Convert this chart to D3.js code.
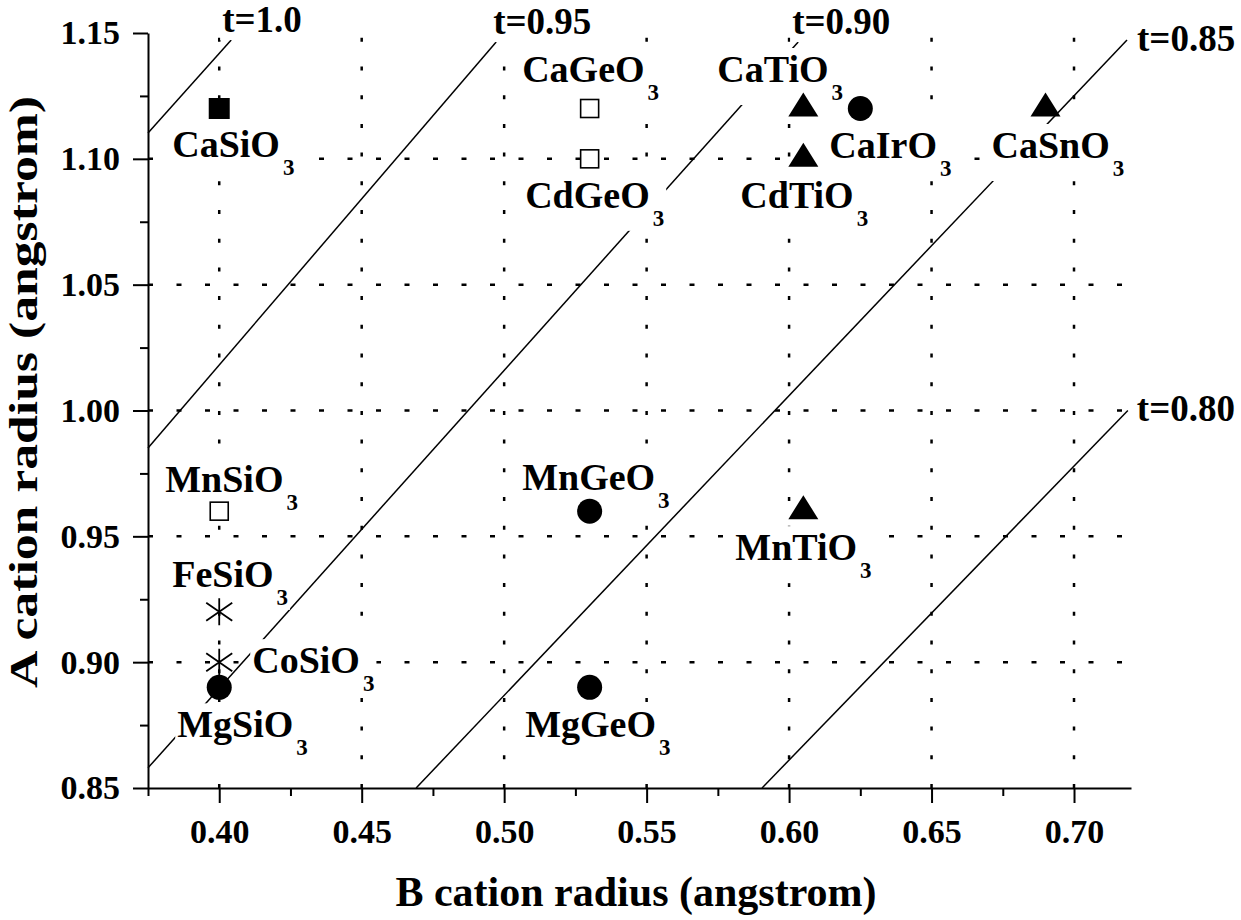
<!DOCTYPE html>
<html><head><meta charset="utf-8">
<script src="https://cdn.jsdelivr.net/npm/d3@7/dist/d3.min.js"></script>
<style>
body{margin:0;background:#fff}
text{font-family:"Liberation Serif","Times New Roman",serif;font-weight:bold;fill:#000}
</style>
</head><body>
<svg id="chart" width="1241" height="920"></svg>
<script>
// ---------------- data ----------------
const compounds = ["CaSiO3","CaGeO3","CdGeO3","CaTiO3","CdTiO3","CaIrO3","CaSnO3",
                   "MnSiO3","FeSiO3","CoSiO3","MgSiO3","MnGeO3","MgGeO3","MnTiO3"];
const bRadius = [0.40,0.53,0.53,0.605,0.605,0.625,0.69,0.40,0.40,0.40,0.40,0.53,0.53,0.605];
const aRadius = [1.12,1.12,1.10,1.12,1.10,1.12,1.12,0.96,0.92,0.90,0.89,0.96,0.89,0.96];
const markerType = ["filledSquare","openSquare","openSquare","triangle","triangle","circle","triangle",
                    "openSquare","asterisk","asterisk","circle","circle","circle","triangle"];

const tLabels = ["t=1.0","t=0.95","t=0.90","t=0.85","t=0.80"];
const tLineB = [[0.375,0.4042],[0.375,0.4972],[0.375,0.6032],[0.4691,0.7186],[0.5905,0.7189]];
const tLineA = [[1.1103,1.1472],[0.9851,1.1464],[0.858,1.1464],[0.85,1.1472],[0.85,1.0]];

const xDomain = [0.375, 0.72];
const yDomain = [0.85, 1.15];
const xTicks = [0.40,0.45,0.50,0.55,0.60,0.65,0.70];
const xMinor = [0.375,0.425,0.475,0.525,0.575,0.625,0.675];
const yTicks = [0.85,0.90,0.95,1.00,1.05,1.10,1.15];
const yMinor = [0.875,0.925,0.975,1.025,1.075,1.125];
const xTitle = "B cation radius (angstrom)";
const yTitle = "A cation radius (angstrom)";

// ---------------- layout (pixels) ----------------
const labelOffset = {
  CaSiO3:[-47,48.5], CaGeO3:[-67.5,-26.5], CdGeO3:[-64.5,49], CaTiO3:[-86,-26.5],
  CdTiO3:[-63,49], CaIrO3:[-31,49.5], CaSnO3:[-54,49.5], MnSiO3:[-54,-19],
  FeSiO3:[-47,-25], CoSiO3:[33,11], MgSiO3:[-42,50], MnGeO3:[-67.5,-21],
  MgGeO3:[-64.5,50], MnTiO3:[-68,49]
};
const tLabelOffset = [[-9,-8],[-3,-8],[-6,-8],[10,11],[9,10]];

const svg = d3.select("#chart");
const x = d3.scaleLinear().domain(xDomain).range([148,1131]);
const y = d3.scaleLinear().domain(yDomain).range([788,33]);

// grid
const grid = svg.append("g");
grid.selectAll("line.v").data(xTicks).join("line").attr("class","v")
  .attr("x1",d=>x(d)).attr("x2",d=>x(d)).attr("y1",y(yDomain[0])).attr("y2",y(yDomain[1]))
  .attr("stroke","#000").attr("stroke-width",2.5).attr("stroke-dasharray","4 24.7");
grid.selectAll("line.h").data(yTicks.filter(d=>d>yDomain[0]+1e-6 && d<yDomain[1]-1e-6)).join("line").attr("class","h")
  .attr("x1",x(xDomain[0])).attr("x2",x(xDomain[1])).attr("y1",d=>y(d)).attr("y2",d=>y(d))
  .attr("stroke","#000").attr("stroke-width",2.5).attr("stroke-dasharray","5 23.5");

// tolerance lines
const lg = svg.append("g");
tLabels.forEach((t,i)=>{
  lg.append("line")
    .attr("x1",x(tLineB[i][0])).attr("y1",y(tLineA[i][0]))
    .attr("x2",x(tLineB[i][1])).attr("y2",y(tLineA[i][1]))
    .attr("stroke","#000").attr("stroke-width",1.5);
});

// labels with white backgrounds
function addLabel(parent, str, px, py, size){
  const g = parent.append("g");
  const t = g.append("text").attr("x",px).attr("y",py).attr("font-size",size);
  const m = str.match(/^(.*?O)(3)$/);
  if(m){
    t.append("tspan").text(m[1]);
    t.append("tspan").attr("dx",3).attr("dy",18).attr("font-size",23).text(m[2]);
  } else t.text(str);
  const bb = t.node().getBBox();
  g.insert("rect","text").attr("x",bb.x-2).attr("y",bb.y).attr("width",bb.width+4).attr("height",bb.height)
    .attr("fill","#fff");
}
const labG = svg.append("g");
compounds.forEach((c,i)=>{
  const o = labelOffset[c];
  addLabel(labG, c, x(bRadius[i])+o[0], y(aRadius[i])+o[1], 38);
});
tLabels.forEach((t,i)=>{
  const o = tLabelOffset[i];
  addLabel(labG, t, x(tLineB[i][1])+o[0], y(tLineA[i][1])+o[1], 37);
});

// axes
const fmt = d3.format(".2f");
svg.append("g").attr("transform",`translate(0,${y(yDomain[0])})`)
  .call(d3.axisBottom(x).tickValues(xTicks).tickSize(15).tickSizeOuter(0).tickPadding(16).tickFormat(fmt));
svg.append("g").attr("transform",`translate(0,${y(yDomain[0])})`)
  .call(d3.axisBottom(x).tickValues(xMinor).tickSize(8).tickSizeOuter(0).tickFormat(""))
  .select(".domain").remove();
svg.append("g").attr("transform",`translate(${x(xDomain[0])},0)`)
  .call(d3.axisLeft(y).tickValues(yTicks).tickSize(15).tickSizeOuter(0).tickPadding(13).tickFormat(fmt));
svg.append("g").attr("transform",`translate(${x(xDomain[0])},0)`)
  .call(d3.axisLeft(y).tickValues(yMinor).tickSize(8).tickSizeOuter(0).tickFormat(""))
  .select(".domain").remove();
svg.selectAll(".domain").attr("stroke","#000").attr("stroke-width",2);
svg.selectAll(".tick line").attr("stroke","#000").attr("stroke-width",2);
svg.selectAll(".tick text").attr("font-size",34).attr("fill","#000");
svg.selectAll("g[font-family]").attr("font-family",null);

// titles
svg.append("text").attr("x",636).attr("y",906)
  .attr("text-anchor","middle").attr("font-size",42).text(xTitle);
svg.append("text").attr("transform",`translate(37,392) rotate(-90)`)
  .attr("text-anchor","middle").attr("font-size",41)
  .attr("textLength",592).attr("lengthAdjust","spacingAndGlyphs").text(yTitle);

// markers
const mg = svg.append("g");
const triH = 24, triW = 30;
compounds.forEach((c,i)=>{
  const cx = x(bRadius[i]), cy = y(aRadius[i]);
  const g = mg.append("g").attr("transform",`translate(${cx},${cy})`);
  switch(markerType[i]){
    case "filledSquare":
      g.append("rect").attr("x",-10.5).attr("y",-10.5).attr("width",21).attr("height",21).attr("fill","#000");
      break;
    case "openSquare":
      g.append("rect").attr("x",-9).attr("y",-9).attr("width",18).attr("height",18)
        .attr("fill","#fff").attr("stroke","#000").attr("stroke-width",1.6);
      break;
    case "triangle":
      g.append("path").attr("d",`M0,${-2*triH/3}L${triW/2},${triH/3}L${-triW/2},${triH/3}Z`).attr("fill","#000");
      break;
    case "circle":
      g.append("circle").attr("r",12.5).attr("fill","#000");
      break;
    case "asterisk":
      g.append("path").attr("d","M0,-13.5V13.5M-13,-9L13,9M-13,9L13,-9")
        .attr("stroke","#000").attr("stroke-width",1.8).attr("fill","none");
      break;
  }
});
</script>
</body></html>
